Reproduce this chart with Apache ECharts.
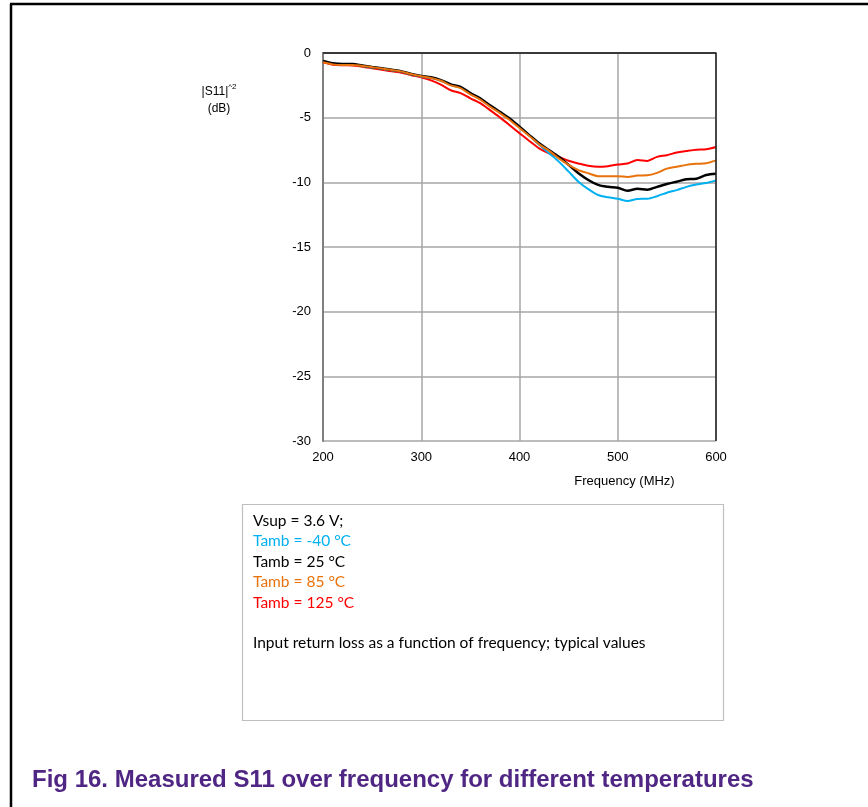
<!DOCTYPE html>
<html>
<head>
<meta charset="utf-8">
<script src="https://cdn.jsdelivr.net/npm/echarts@6/dist/echarts.min.js"></script>
<style>
html,body{margin:0;padding:0;background:#fff;}
#chart{width:868px;height:807px;}
</style>
</head>
<body>
<div id="chart"></div>
<script>
var freqs = [200,210,220,230,240,250,260,270,280,290,300,310,320,330,340,350,360,370,380,390,400,410,420,430,440,450,460,470,480,490,500,510,520,530,540,550,560,570,580,590,600];
var tM40 = [-0.65,-0.83,-0.88,-0.88,-1.0,-1.12,-1.22,-1.34,-1.46,-1.66,-1.82,-1.94,-2.15,-2.48,-2.68,-3.15,-3.55,-4.1,-4.6,-5.12,-5.73,-6.38,-7.1,-7.75,-8.4,-9.17,-9.95,-10.53,-10.98,-11.16,-11.27,-11.45,-11.28,-11.27,-11.07,-10.8,-10.6,-10.35,-10.17,-10.05,-9.85];
var t25 = [-0.62,-0.8,-0.86,-0.86,-0.97,-1.08,-1.18,-1.3,-1.42,-1.62,-1.77,-1.88,-2.1,-2.43,-2.63,-3.1,-3.5,-4.05,-4.55,-5.07,-5.7,-6.35,-6.98,-7.5,-8.03,-8.65,-9.3,-9.82,-10.2,-10.35,-10.42,-10.65,-10.5,-10.57,-10.35,-10.13,-9.95,-9.77,-9.72,-9.43,-9.33];
var t85 = [-0.72,-0.88,-0.92,-0.92,-1.0,-1.1,-1.2,-1.32,-1.44,-1.65,-1.8,-1.93,-2.15,-2.5,-2.72,-3.2,-3.6,-4.15,-4.65,-5.18,-5.8,-6.42,-7.05,-7.55,-8.15,-8.65,-9.05,-9.3,-9.52,-9.52,-9.52,-9.58,-9.48,-9.46,-9.27,-8.94,-8.8,-8.65,-8.57,-8.52,-8.3];
var t125 = [-0.72,-0.9,-0.95,-0.96,-1.06,-1.18,-1.3,-1.42,-1.52,-1.72,-1.88,-2.12,-2.45,-2.88,-3.1,-3.5,-3.88,-4.42,-4.98,-5.58,-6.2,-6.8,-7.38,-7.75,-8.03,-8.33,-8.54,-8.72,-8.8,-8.75,-8.62,-8.55,-8.28,-8.35,-8.03,-7.9,-7.7,-7.58,-7.48,-7.45,-7.27];
var xTicks = [200,300,400,500,600];
var yTicks = [0,-5,-10,-15,-20,-25,-30];
var legendLines = ['Vsup = 3.6 V;','Tamb = -40 °C','Tamb = 25 °C','Tamb = 85 °C','Tamb = 125 °C'];
var noteText = 'Input return loss as a function of frequency; typical values';
var captionText = 'Fig 16. Measured S11 over frequency for different temperatures';

var colBlue = '#00b0f0', colBlack = '#000000', colOrange = '#e8720c', colRed = '#ff0000';
var legendColors = ['#000000', colBlue, colBlack, colOrange, colRed];

function pairs(arr){ return freqs.map(function(f,i){ return [f, arr[i]]; }); }

var chart = echarts.init(document.getElementById('chart'), null, {renderer:'canvas'});

var graphics = [
  {type:'line', shape:{x1:10, y1:4, x2:868, y2:4}, style:{stroke:'#000', lineWidth:2.5}, z:10},
  {type:'line', shape:{x1:11, y1:4, x2:11, y2:807}, style:{stroke:'#000', lineWidth:2.5}, z:10},
  {type:'line', shape:{x1:323, y1:53, x2:716, y2:53}, style:{stroke:'#222', lineWidth:1.5}, z:10},
  {type:'line', shape:{x1:716, y1:53, x2:716, y2:441}, style:{stroke:'#222', lineWidth:1.5}, z:10},
  {type:'text', x:219, y:83, style:{
      text:'{a||S11|}{s|^2}\n{a|(dB)}',
      rich:{a:{fontSize:12, fontFamily:'Liberation Sans', fill:'#000', lineHeight:17},
            s:{fontSize:8, fontFamily:'Liberation Sans', fill:'#000', verticalAlign:'top', lineHeight:12}},
      align:'center'}},
  {type:'rect', shape:{x:242.5, y:504.5, width:481, height:216}, style:{fill:'#fff', stroke:'#bfbfbf', lineWidth:1.2}},
  {type:'text', left:32, top:768, style:{text:captionText, fontFamily:'Liberation Sans', fontWeight:'bold', fontSize:24, fill:'#4f2683'}}
];
legendLines.forEach(function(t,i){
  graphics.push({type:'text', left:253, top:512.5 + i*20.5, style:{text:t, fontFamily:'Lato', fontSize:15.5, fill:legendColors[i]}});
});
graphics.push({type:'text', left:253, top:635, style:{text:noteText, fontFamily:'Lato', fontSize:15.5, fill:'#000'}});

var option = {
  backgroundColor:'#fff',
  animation:false,
  grid:{left:323, top:53, right:152, bottom:366, show:false},
  xAxis:{
    type:'value', min:200, max:600, interval:100,
    name:'Frequency (MHz)', nameLocation:'middle', nameGap:34,
    nameTextStyle:{fontFamily:'Liberation Sans', fontSize:13, color:'#000', padding:[0,0,0,210]},
    axisLine:{show:true, lineStyle:{color:'#808080', width:2}},
    axisTick:{show:false},
    axisLabel:{fontFamily:'Liberation Sans', fontSize:13, color:'#000', margin:10},
    splitLine:{show:true, lineStyle:{color:'#a6a6a6', width:1.5}}
  },
  yAxis:{
    type:'value', min:-30, max:0, interval:5,
    axisLine:{show:true, lineStyle:{color:'#808080', width:2}},
    axisTick:{show:false},
    axisLabel:{fontFamily:'Liberation Sans', fontSize:13, color:'#000', margin:12},
    splitLine:{show:true, lineStyle:{color:'#a6a6a6', width:1.5}}
  },
  series:[
    {name:'125', type:'line', data:pairs(t125), showSymbol:false, smooth:0.3, lineStyle:{color:colRed, width:2}, z:3},
    {name:'-40', type:'line', data:pairs(tM40), showSymbol:false, smooth:0.3, lineStyle:{color:colBlue, width:2}, z:4},
    {name:'25', type:'line', data:pairs(t25), showSymbol:false, smooth:0.3, lineStyle:{color:colBlack, width:2.5}, z:5},
    {name:'85', type:'line', data:pairs(t85), showSymbol:false, smooth:0.3, lineStyle:{color:colOrange, width:2}, z:6}
  ],
  graphic:graphics
};
chart.setOption(option);
</script>
</body>
</html>
